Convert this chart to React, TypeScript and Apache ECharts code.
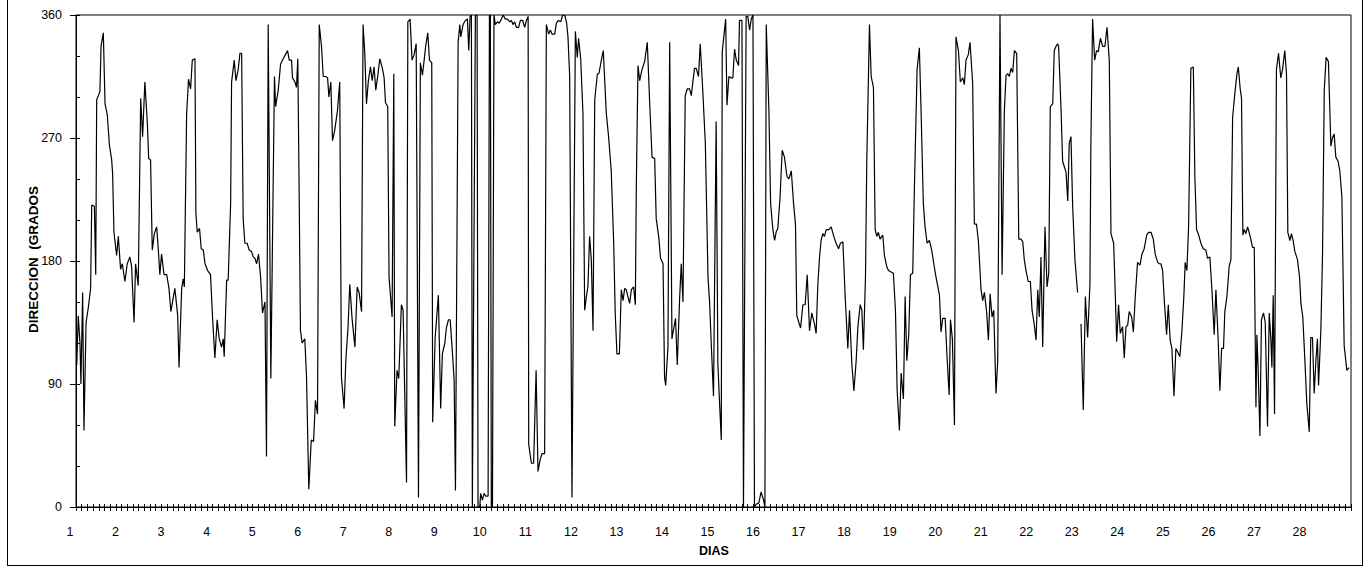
import { useEffect, useRef } from 'react'
import * as echarts from 'echarts'

// Dirección del viento: [horas desde el inicio del día 1, grados]
// null = dato faltante (corta la línea)
const semana1 = [
  [0.4, 104], [1.2, 140], [2.1, 120], [2.6, 90], [3.5, 157], [4.2, 56], [5.3, 135], [6.5, 146], [7.7, 160], [8.3, 221],
  [9.7, 220], [10.4, 170], [10.9, 298], [11.8, 301], [12.6, 304], [13.2, 337], [14.4, 347], [15.3, 295], [16.5, 287], [17.6, 265],
  [18.8, 254], [19.3, 244], [20.0, 201], [21.4, 184], [22.3, 198], [23.5, 174], [24.4, 178], [25.8, 165], [27.0, 178], [28.4, 183],
  [29.3, 176], [30.6, 135], [31.4, 178], [32.8, 162], [34.1, 299], [35.1, 271], [36.3, 311], [37.6, 281], [38.3, 255], [39.3, 254],
  [40.2, 188], [41.3, 200], [42.5, 205], [43.4, 188], [44.2, 170], [45.1, 185], [46.4, 170], [47.8, 170], [49.0, 160], [50.0, 143],
  [52.1, 160], [53.6, 140], [54.3, 102], [55.7, 160], [56.5, 167], [57.1, 161], [58.3, 287], [59.3, 313], [60.4, 306], [61.3, 327],
  [62.7, 328], [63.2, 215], [63.9, 201], [65.1, 204], [66.0, 189], [67.1, 188], [68.0, 178], [69.4, 173], [70.9, 170], [72.0, 138],
  [73.2, 109], [74.4, 137], [75.5, 123], [76.7, 117], [77.6, 123], [78.1, 110], [79.4, 166], [80.2, 166], [81.5, 222], [82.0, 311],
  [83.4, 327], [84.3, 312], [85.5, 320], [86.4, 332], [87.3, 332], [88.1, 211], [89.0, 193], [90.2, 193], [91.3, 188], [92.5, 187],
  [93.4, 183], [94.3, 182], [95.2, 178], [96.2, 185], [97.3, 168], [98.3, 142], [99.6, 150], [100.4, 37], [101.3, 353], [102.7, 94],
  [104.6, 315], [105.2, 293], [106.6, 305], [107.8, 324], [109.2, 328], [110.4, 331], [111.5, 334], [112.4, 327], [113.6, 327], [114.1, 314],
  [115.4, 311], [116.2, 307], [116.9, 328], [117.6, 232], [118.3, 129], [119.2, 120], [120.6, 123], [121.5, 95], [122.7, 13], [124.0, 49],
  [125.2, 48], [126.2, 78], [127.3, 68], [128.2, 353], [129.4, 337], [130.3, 315], [131.7, 315], [132.6, 314], [133.3, 300], [134.3, 311],
  [135.2, 268], [136.4, 276], [137.8, 290], [139.0, 311], [139.9, 95], [141.3, 72], [142.2, 107], [143.4, 132], [144.3, 163], [145.5, 138],
  [147.0, 117], [148.2, 161], [149.2, 157], [150.5, 143], [151.3, 353], [152.2, 332], [153.1, 295], [154.1, 312], [155.2, 322], [156.1, 312],
  [157.1, 322], [158.0, 305], [159.1, 316], [160.1, 328], [161.5, 321], [162.4, 314], [163.1, 296], [164.3, 293], [165.0, 168], [166.6, 139],
  [167.5, 317]
]

const semana2 = [
  [168.0, 59], [169.2, 100], [170.1, 94], [171.5, 148], [172.4, 144], [173.3, 81], [174.2, 18], [174.9, 355], [176.1, 357], [177.1, 327],
  [178.2, 331], [179.3, 339], [180.5, 7], [181.5, 325], [182.6, 316], [183.5, 327], [184.3, 337], [185.4, 347], [186.3, 327], [187.5, 325],
  [188.0, 62], [189.3, 124], [191.0, 155], [192.2, 72], [193.1, 112], [194.4, 120], [195.2, 131], [196.3, 137], [197.2, 137], [198.2, 117],
  [199.3, 93], [200.0, 12], [201.4, 340], [202.3, 353], [202.8, 344], [204.0, 353], [205.2, 356], [206.3, 357], [207.0, 334], [207.7, 359],
  [208.4, 360], [208.9, 0], [210.5, 360], [211.4, 360], [211.9, 0], [212.8, 0], [213.3, 10], [214.2, 5], [215.1, 10], [215.9, 8],
  [217.2, 8], [217.9, 360], [218.4, 360], [218.9, 0], [219.5, 0], [220.3, 360], [221.0, 353], [222.1, 355], [223.0, 354], [224.2, 357],
  [225.1, 360], [226.3, 357], [227.4, 357], [228.6, 355], [229.5, 356], [230.3, 353], [231.2, 355], [232.1, 351], [233.3, 351], [234.2, 356],
  [235.4, 356], [236.5, 351], [237.4, 356], [238.3, 359], [238.6, 46], [240.0, 32], [241.2, 32], [242.5, 100], [243.5, 26], [244.7, 35],
  [245.6, 39], [247.0, 39], [247.9, 353], [249.1, 346], [250.0, 349], [250.9, 346], [252.3, 346], [253.2, 354], [254.2, 356], [255.5, 355],
  [256.5, 360], [257.6, 360], [258.6, 354], [259.3, 344], [260.2, 315], [261.4, 7], [263.2, 348], [264.2, 329], [264.9, 343], [266.0, 328],
  [267.2, 288], [268.1, 144], [269.0, 154], [269.8, 161], [270.7, 198], [271.6, 181], [272.5, 129], [273.4, 298], [274.8, 317], [275.6, 317],
  [276.9, 327], [277.9, 334], [279.5, 288], [280.7, 271], [282.1, 246], [283.4, 193], [284.2, 142], [285.1, 112], [286.4, 112], [287.4, 159],
  [288.3, 151], [289.2, 160], [290.0, 159], [290.9, 154], [291.8, 149], [292.7, 159], [293.9, 161], [294.8, 148], [295.3, 232], [296.2, 323],
  [297.1, 312], [298.3, 320], [299.7, 326], [301.1, 340], [302.3, 298], [303.6, 256], [305.0, 255], [305.8, 211], [307.1, 198], [308.1, 182],
  [309.4, 178], [310.2, 95], [310.8, 89], [312.0, 117], [312.9, 340], [314.1, 123], [315.1, 131], [316.0, 138], [316.9, 104], [318.1, 151],
  [319.0, 178], [319.9, 150], [321.1, 301], [322.2, 306], [323.4, 306], [324.3, 301], [325.2, 312], [326.0, 321], [326.9, 321], [328.1, 315],
  [329.0, 339], [330.4, 303], [331.7, 266], [333.1, 168], [333.9, 151], [334.8, 120]
]

const semana3 = [
  [336.0, 81], [337.4, 282], [338.3, 105], [339.2, 76], [340.1, 49], [340.6, 333], [342.4, 357], [343.1, 294], [344.1, 315], [345.3, 314],
  [346.2, 314], [347.1, 335], [348.0, 327], [349.2, 323], [349.7, 356], [351.0, 356], [351.8, 0], [353.2, 359], [354.1, 359], [355.0, 349],
  [355.9, 357], [356.8, 360], [357.6, 0], [358.5, 2], [359.9, 3], [361.1, 11], [362.4, 5], [363.1, 0], [363.8, 353], [365.2, 290],
  [366.1, 222], [367.3, 203], [368.2, 195], [369.0, 201], [369.9, 204], [371.1, 227], [372.2, 261], [373.4, 256], [374.7, 242], [375.7, 240],
  [377.0, 246], [378.2, 222], [379.2, 207], [379.9, 140], [381.0, 135], [381.9, 131], [383.1, 148], [384.3, 148], [385.4, 170], [386.6, 129],
  [387.8, 142], [389.2, 134], [390.1, 127], [391.0, 163], [391.9, 183], [392.7, 195], [393.6, 200], [394.5, 198], [395.4, 203], [396.8, 203],
  [398.0, 205], [399.4, 198], [400.6, 193], [401.9, 189], [402.9, 193], [404.2, 194], [405.4, 154], [406.8, 116], [407.7, 144], [408.9, 105],
  [410.0, 85], [411.2, 107], [412.1, 132], [413.3, 148], [414.2, 144], [415.0, 115], [416.1, 168], [416.8, 254], [418.2, 353], [419.1, 315],
  [420.3, 307], [421.2, 203], [422.1, 198], [422.9, 201], [423.8, 196], [425.2, 199], [426.1, 184], [427.3, 176], [428.2, 173], [429.6, 172],
  [430.8, 171], [431.9, 144], [432.8, 85], [434.0, 56], [434.9, 98], [436.1, 79], [437.0, 154], [437.9, 107], [438.9, 126], [439.8, 170],
  [441.0, 171], [441.9, 234], [443.3, 320], [444.5, 336], [445.4, 290], [446.6, 222], [447.5, 205], [448.6, 193], [449.8, 195], [451.0, 188],
  [452.1, 178], [453.3, 168], [455.1, 155], [455.9, 128], [456.8, 138], [458.1, 138], [459.1, 110], [460.2, 82], [460.9, 137], [461.9, 123],
  [463.0, 60], [463.8, 344], [465.1, 334], [466.1, 311], [467.4, 314], [468.2, 309], [469.1, 327], [470.3, 331], [471.2, 340], [472.6, 310],
  [473.5, 207], [474.6, 207], [475.6, 195], [477.0, 159], [477.9, 151], [478.8, 157], [480.0, 142], [480.9, 122], [481.8, 156], [482.8, 139],
  [483.7, 144], [484.9, 83], [485.8, 107], [487.0, 360], [488.1, 170], [489.3, 290], [490.2, 316], [491.1, 317], [491.9, 315], [492.8, 321],
  [493.7, 318], [494.6, 334], [495.8, 332], [496.9, 196], [498.1, 196], [499.0, 194], [499.8, 181], [500.7, 173], [501.9, 165], [503.0, 165],
  [503.9, 144]
]

const semana4 = [
  [505.1, 133], [506.0, 122], [506.9, 159], [507.7, 139], [508.6, 183], [509.5, 117], [510.7, 205], [511.8, 161], [512.7, 171], [513.5, 293],
  [514.8, 295], [515.6, 334], [516.5, 337], [517.4, 339], [517.9, 337], [519.2, 290], [520.0, 253], [520.9, 249], [521.8, 245], [522.7, 224],
  [523.5, 266], [524.4, 271], [525.3, 220], [526.5, 181], [527.9, 157], [528.8, null], [529.7, 134], [530.9, 71], [532.0, 154], [533.2, 124],
  [534.4, 163], [534.9, 266], [535.8, 357], [536.9, 327], [537.9, 334], [538.8, 333], [539.9, 343], [541.1, 337], [542.3, 337], [543.4, 351],
  [544.6, 327], [545.5, 200], [546.9, 193], [547.8, 154], [548.5, 121], [549.5, 148], [550.4, 127], [551.6, 132], [552.5, 109], [553.4, 132],
  [554.3, 133], [555.1, 143], [556.4, 139], [557.3, 128], [558.3, 154], [559.5, 179], [560.8, 177], [561.8, 185], [563.0, 189], [564.3, 199],
  [565.3, 201], [566.6, 201], [567.8, 196], [568.8, 185], [570.1, 179], [570.9, 178], [571.8, 178], [572.7, 173], [573.7, 149], [574.8, 126],
  [575.7, 148], [576.7, 122], [577.6, 116], [578.7, 81], [579.7, 116], [580.8, 113], [581.8, 110], [582.9, 129], [583.9, 154], [584.6, 179],
  [585.5, 173], [586.4, 205], [587.6, 321], [588.9, 322], [589.7, 242], [590.6, 203], [591.7, 199], [592.9, 193], [594.1, 189], [595.5, 188],
  [596.4, 182], [597.6, 183], [598.7, 159], [599.9, 126], [600.8, 159], [602.0, 122], [602.9, 85], [603.8, 116], [604.8, 116], [605.5, 143],
  [606.6, 154], [607.8, 176], [608.7, 181], [609.6, 285], [610.8, 303], [611.9, 317], [612.6, 322], [613.6, 306], [614.3, 299], [615.0, 199],
  [615.7, 203], [616.6, 200], [617.5, 205], [618.3, 201], [619.2, 196], [620.1, 190], [621.0, 190], [621.9, 73], [622.4, 126], [623.1, 99],
  [624.0, 52], [624.8, 137], [625.9, 142], [626.8, 135], [628.0, 59], [628.9, 142], [629.8, 122], [630.3, 102], [631.0, 155], [631.7, 68],
  [632.7, 320], [633.8, 332], [635.0, 314], [635.9, 320], [637.1, 334], [638.0, 317], [638.7, 201], [639.8, 195], [640.6, 200], [641.5, 195],
  [642.4, 187], [643.8, 181], [644.9, 168], [645.6, 149], [646.6, 139], [647.7, 107], [648.7, 76], [650.0, 55], [650.8, 124], [651.7, 124],
  [652.6, 83], [653.5, 107], [654.3, 123], [654.9, 89], [656.1, 129], [657.0, 185], [657.9, 305], [658.9, 329], [660.1, 326], [661.4, 264],
  [662.2, 270], [663.1, 273], [664.0, 256], [665.2, 253], [666.1, 246], [667.2, 227], [668.4, 118], [669.8, 100], [671.0, 102]
]

const HORAS_DIA = 24
const TOTAL_HORAS = 672 // 28 días
const Y_MAX = 360
const Y_PASO = 90

const FUENTE = '"Liberation Sans", Arial, Helvetica, sans-serif'

export default function App() {
  const chartRef = useRef<HTMLDivElement>(null)

  useEffect(() => {
    if (!chartRef.current) return

    const chart = echarts.init(chartRef.current, null, { renderer: 'svg' })

    const serie = [...semana1, ...semana2, ...semana3, ...semana4].map(([h, v]) => [h, v === null ? '-' : v])
    const negro = { color: '#000', width: 1 }

    const option = {
      animation: false,
      grid: {
        left: 76,
        right: 17,
        top: 15,
        bottom: 66,
        show: true,
        borderColor: '#000',
        borderWidth: 1,
        backgroundColor: 'transparent'
      },
      xAxis: [
        {
          type: 'value',
          min: 0,
          max: TOTAL_HORAS,
          interval: HORAS_DIA,
          axisLine: { lineStyle: negro },
          axisTick: { length: 4, lineStyle: negro },
          minorTick: { show: true, splitNumber: 8, length: 4, lineStyle: negro },
          splitLine: { show: false },
          axisLabel: {
            color: '#000',
            fontSize: 12.5,
            fontFamily: FUENTE,
            margin: 18,
            padding: [0, 12, 0, 0],
            formatter: (v: number) => (v >= TOTAL_HORAS ? '' : String(v / HORAS_DIA + 1))
          }
        },
        {
          // marcas hacia adentro (cruzan el eje)
          type: 'value',
          position: 'bottom',
          min: 0,
          max: TOTAL_HORAS,
          interval: HORAS_DIA,
          axisLine: { show: false },
          axisTick: { inside: true, length: 3, lineStyle: negro },
          minorTick: { show: true, splitNumber: 8, length: 3, lineStyle: negro },
          splitLine: { show: false },
          axisLabel: { show: false }
        }
      ],
      yAxis: [
        {
          type: 'value',
          min: 0,
          max: Y_MAX,
          interval: Y_PASO,
          axisLine: { show: true, lineStyle: negro },
          axisTick: { show: true, length: 6, lineStyle: negro },
          splitLine: { show: false },
          axisLabel: { color: '#000', fontSize: 12.5, fontFamily: FUENTE, margin: 14 }
        },
        {
          type: 'value',
          position: 'left',
          min: 0,
          max: Y_MAX,
          interval: Y_PASO,
          axisLine: { show: false },
          axisTick: { show: true, inside: true, length: 4, lineStyle: negro },
          minorTick: { show: true, splitNumber: 3, length: 4, lineStyle: negro },
          splitLine: { show: false },
          axisLabel: { show: false }
        }
      ],
      series: [
        {
          name: 'DIRECCION',
          type: 'line',
          xAxisIndex: 0,
          yAxisIndex: 0,
          data: serie,
          symbol: 'none',
          showSymbol: false,
          connectNulls: false,
          lineStyle: { color: '#000', width: 1.2 }
        }
      ],
      graphic: [
        {
          type: 'text',
          x: 714,
          y: 551,
          style: {
            text: 'DIAS',
            fill: '#000',
            font: `bold 12.5px ${FUENTE}`,
            align: 'center',
            verticalAlign: 'middle'
          }
        },
        {
          type: 'text',
          x: 33,
          y: 333,
          rotation: Math.PI / 2,
          style: {
            text: 'DIRECCION  (GRADOS',
            fill: '#000',
            font: `bold 13.5px ${FUENTE}`,
            align: 'left',
            verticalAlign: 'middle'
          }
        }
      ]
    }

    chart.setOption(option)

    return () => {
      chart.dispose()
    }
  }, [])

  return (
    <>
      <div
        ref={chartRef}
        style={{ position: 'fixed', left: 0, top: 0, width: 1368, height: 573, background: '#fff' }}
      />
      <div
        style={{
          position: 'fixed',
          left: 7,
          top: -10,
          width: 1356,
          height: 576,
          border: '1px solid #000',
          boxSizing: 'border-box',
          pointerEvents: 'none'
        }}
      />
    </>
  )
}
